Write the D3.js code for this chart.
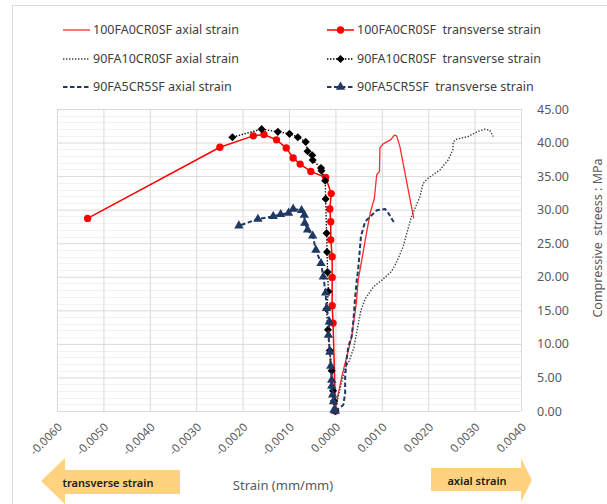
<!DOCTYPE html>
<html>
<head>
<meta charset="utf-8">
<script src="https://cdn.jsdelivr.net/npm/d3@7"></script>
<style>
  body { margin: 0; background: #fff; }
  svg text { font-family: "Noto Sans", "Open Sans", sans-serif; white-space: pre; }
</style>
</head>
<body>
<div id="chart"></div>
<script>
// chart size
const W = 607, H = 504;

// axis ticks
const strainTicks = [-0.006, -0.005, -0.004, -0.003, -0.002, -0.001, 0, 0.001, 0.002, 0.003, 0.004];
const stressTicks = [0, 5, 10, 15, 20, 25, 30, 35, 40, 45];

// 100FA0CR0SF axial strain
const ax100Strain = [0, 0.00003, 0.00015, 0.00035, 0.00045, 0.00049, 0.00053, 0.00067, 0.00075, 0.00084, 0.00089, 0.00095, 0.00096, 0.00103, 0.00119, 0.00127, 0.00132, 0.00139, 0.00168, 0.00169];
const ax100Stress = [0, 1.5, 5.5, 11.0, 16.0, 19.5, 21.0, 26.5, 29.5, 31.7, 35.2, 35.7, 39.2, 39.8, 40.4, 41.1, 41.0, 39.4, 29.0, 28.7];

// 100FA0CR0SF transverse strain
const tr100Strain = [0, -0.00005, -0.00007, -0.00007, -0.00007, -0.0001, -0.0001, -0.00012, -0.00009, -0.00021, -0.00053, -0.00076, -0.00091, -0.00106, -0.00127, -0.00154, -0.00177, -0.00249, -0.00534];
const tr100Stress = [0, 13.1, 15.7, 19.9, 23.0, 25.5, 28.2, 30.1, 32.4, 34.8, 35.7, 36.8, 37.7, 39.2, 40.4, 41.2, 41.0, 39.3, 28.7];

// 90FA10CR0SF axial strain
const ax90Strain = [0, 0.00002, 0.00016, 0.00022, 0.0003, 0.0004, 0.00048, 0.00055, 0.00065, 0.00082, 0.001, 0.00121, 0.00132, 0.00146, 0.00164, 0.00182, 0.00189, 0.002, 0.00225, 0.00243, 0.00253, 0.00254, 0.00261, 0.00286, 0.00305, 0.00322, 0.00333, 0.0034];
const ax90Stress = [0, 1.0, 5.0, 6.5, 7.5, 9.5, 12.5, 15.0, 16.8, 18.5, 19.5, 20.8, 22.2, 24.5, 29.0, 31.9, 33.9, 34.7, 35.9, 37.4, 38.9, 40.1, 40.5, 40.9, 41.6, 42.0, 41.8, 40.9];

// 90FA10CR0SF transverse strain
const tr90Strain = [0, -0.00003, -0.00005, -0.00008, -0.00012, -0.00016, -0.00019, -0.00015, -0.00017, -0.00018, -0.00019, -0.00021, -0.00022, -0.0003, -0.00031, -0.00049, -0.0005, -0.0006, -0.00064, -0.00081, -0.00099, -0.00124, -0.00159, -0.00222];
const tr90Stress = [0, 1.5, 3.0, 6.0, 9.0, 12.1, 15.2, 17.8, 20.7, 23.7, 26.5, 31.6, 34.3, 35.8, 36.2, 37.4, 38.1, 38.7, 40.1, 40.8, 41.3, 41.6, 42.0, 40.8];

// 90FA5CR5SF axial strain
const ax95Strain = [0, 0.00017, 0.00021, 0.00021, 0.00024, 0.00028, 0.00035, 0.00039, 0.00042, 0.00046, 0.00049, 0.00055, 0.00064, 0.00071, 0.00089, 0.00107, 0.00114, 0.00127];
const ax95Stress = [0, 0.9, 2.6, 5.1, 7.6, 9.6, 11.1, 13.6, 16.5, 19.5, 21.0, 26.0, 28.2, 28.7, 29.9, 30.1, 29.5, 28.0];

// 90FA5CR5SF transverse strain
const tr95Strain = [0, -0.00003, -0.00004, -0.00006, -0.00008, -0.00008, -0.0001, -0.00012, -0.00015, -0.00013, -0.00019, -0.00021, -0.00026, -0.00031, -0.00042, -0.00049, -0.0006, -0.00066, -0.00067, -0.00073, -0.00091, -0.00101, -0.00118, -0.00134, -0.00167, -0.00208];
const tr95Stress = [0, 0.15, 1.4, 2.4, 3.7, 4.6, 6.7, 8.8, 11.3, 13.3, 15.3, 17.6, 20.0, 22.0, 24.0, 26.1, 27.0, 28.0, 29.2, 29.9, 30.1, 29.5, 29.3, 29.0, 28.6, 27.6];

const seriesNames = [
  "100FA0CR0SF axial strain", "100FA0CR0SF  transverse strain",
  "90FA10CR0SF axial strain", "90FA10CR0SF  transverse strain",
  "90FA5CR5SF axial strain", "90FA5CR5SF  transverse strain"
];

const zip = (xs, ys) => xs.map((v, i) => ({x: v, y: ys[i]}));

const NAVY = "#1f3864";
const series = [
  {name: seriesNames[0], data: zip(ax100Strain, ax100Stress), color: "#ff2a2a", width: 1.3, dash: null, marker: null},
  {name: seriesNames[1], data: zip(tr100Strain, tr100Stress), color: "#ff0000", width: 1.5, dash: null, marker: "circle"},
  {name: seriesNames[2], data: zip(ax90Strain, ax90Stress), color: "#404040", width: 1.4, dash: "1.4,1.6", marker: null},
  {name: seriesNames[3], data: zip(tr90Strain, tr90Stress), color: "#000000", width: 1.4, dash: "1.4,1.6", marker: "diamond"},
  {name: seriesNames[4], data: zip(ax95Strain, ax95Stress), color: NAVY, width: 2, dash: "4.5,2.5", marker: null},
  {name: seriesNames[5], data: zip(tr95Strain, tr95Stress), color: NAVY, width: 2, dash: "4.5,2.5", marker: "triangle"}
];

const plot = {left: 57, right: 521, top: 109, bottom: 411};

// plain hyphen for negative numbers, like the original labels
const fmt = d3.formatLocale({decimal: ".", thousands: ",", grouping: [3], currency: ["", ""], minus: "-"});

const svg = d3.select("#chart").append("svg")
    .attr("width", W)
    .attr("height", H);

// outer chart border
svg.append("rect")
    .attr("x", 12.5).attr("y", 5.5)
    .attr("width", W).attr("height", H)
    .attr("fill", "none").attr("stroke", "#d9d9d9");

let x = d3.scaleLinear().domain([-0.006, 0.004]).range([plot.left, plot.right]);
let y = d3.scaleLinear().domain([0, 45]).range([plot.bottom, plot.top]);

// minor gridlines (every 1 MPa)
svg.append("g")
    .selectAll("line").data(d3.range(0, 46, 1).filter(d => d % 5 !== 0))
    .enter().append("line")
    .attr("x1", plot.left).attr("x2", plot.right)
    .attr("y1", d => Math.round(y(d)) + 0.5).attr("y2", d => Math.round(y(d)) + 0.5)
    .attr("stroke", "#f2f2f2");

// major gridlines
svg.append("g")
    .call(d3.axisLeft(y).tickValues(stressTicks).tickSize(-(plot.right - plot.left)).tickFormat(""))
    .attr("transform", `translate(${plot.left},0)`)
    .call(g => g.select(".domain").remove())
    .call(g => g.selectAll("line").attr("stroke", "#d9d9d9"));

svg.append("g")
    .call(d3.axisBottom(x).tickValues(strainTicks).tickSize(-(plot.bottom - plot.top)).tickFormat(""))
    .attr("transform", `translate(0,${plot.bottom})`)
    .call(g => g.select(".domain").remove())
    .call(g => g.selectAll("line").attr("stroke", "#d9d9d9"));

// y labels on the right
svg.append("g")
    .attr("transform", `translate(${plot.right + 8},0)`)
    .call(d3.axisRight(y).tickValues(stressTicks).tickSize(0).tickPadding(8).tickFormat(fmt.format(".2f")))
    .call(g => g.select(".domain").remove())
    .call(g => g.selectAll("text").attr("fill", "#595959").style("font-size", "12.5px"));

// x labels, rotated
svg.append("g").selectAll("text").data(strainTicks)
    .enter().append("text")
    .attr("transform", d => `translate(${x(d) + 3},${plot.bottom + 14}) rotate(-45)`)
    .attr("text-anchor", "end")
    .attr("dy", "0.35em")
    .attr("fill", "#595959")
    .style("font-size", "11.5px")
    .text(d => fmt.format(".4f")(d));

// axis titles
svg.append("text")
    .attr("x", 283).attr("y", 485)
    .attr("text-anchor", "middle").attr("dy", "0.35em")
    .attr("fill", "#595959").style("font-size", "13px")
    .text("Strain (mm/mm)");

svg.append("text")
    .attr("transform", `translate(598,238) rotate(-90)`)
    .attr("text-anchor", "middle").attr("dy", "0.35em")
    .attr("fill", "#595959").style("font-size", "12.5px")
    .text("Compressive  streess : MPa");

// symbols for markers
const symbolOf = {
  circle: d3.symbol().type(d3.symbolCircle).size(42),
  diamond: d3.symbol().type(d3.symbolDiamond2).size(42),
  triangle: d3.symbol().type(d3.symbolTriangle).size(38)
};

const line = d3.line().x(d => x(d.x)).y(d => y(d.y));

const plotG = svg.append("g");
series.forEach(function(s) {
  plotG.append("path")
      .datum(s.data)
      .attr("d", line)
      .attr("fill", "none")
      .attr("stroke", s.color)
      .attr("stroke-width", s.width)
      .attr("stroke-dasharray", s.dash)
      .attr("stroke-linejoin", "round");
  if (s.marker) {
    plotG.append("g").selectAll("path").data(s.data)
        .enter().append("path")
        .attr("d", symbolOf[s.marker])
        .attr("transform", d => `translate(${x(d.x)},${y(d.y)})`)
        .attr("fill", s.color);
  }
});

// legend, 2 columns x 3 rows
const legX = [63, 327], legY = [30, 59, 87];
series.forEach(function(s, i) {
  let col = i % 2, row = Math.floor(i / 2);
  let g = svg.append("g").attr("transform", `translate(${legX[col]},${legY[row]})`);
  g.append("line")
      .attr("x1", 0).attr("x2", 27).attr("y1", 0).attr("y2", 0)
      .attr("stroke", s.color).attr("stroke-width", s.width)
      .attr("stroke-dasharray", s.dash);
  if (s.marker) {
    g.append("path").attr("d", symbolOf[s.marker]).attr("transform", "translate(13.5,0)").attr("fill", s.color);
  }
  g.append("text")
      .attr("x", 30).attr("dy", "0.35em")
      .attr("fill", "#404040").style("font-size", "12.5px")
      .text(s.name);
});

// arrows under the axis
const arrowFill = "#ffd27f";
function arrow(tipX, headX, endX, top, bot, bTop, bBot) {
  let midY = (top + bot) / 2;
  return `M${tipX},${midY} L${headX},${top} L${headX},${bTop} L${endX},${bTop} L${endX},${bBot} L${headX},${bBot} L${headX},${bot} Z`;
}
svg.append("path")
    .attr("d", arrow(41, 65, 180, 458, 504, 470, 494))
    .attr("fill", arrowFill);
svg.append("path")
    .attr("d", arrow(532, 521, 431, 458, 502, 468, 491))
    .attr("fill", arrowFill);

svg.append("text")
    .attr("x", 108).attr("y", 483).attr("dy", "0.35em")
    .attr("text-anchor", "middle").attr("fill", "#1a1a1a")
    .style("font-size", "11px").style("font-weight", 600)
    .text("transverse strain");
svg.append("text")
    .attr("x", 477).attr("y", 481).attr("dy", "0.35em")
    .attr("text-anchor", "middle").attr("fill", "#1a1a1a")
    .style("font-size", "11px").style("font-weight", 600)
    .text("axial strain");
</script>
</body>
</html>
